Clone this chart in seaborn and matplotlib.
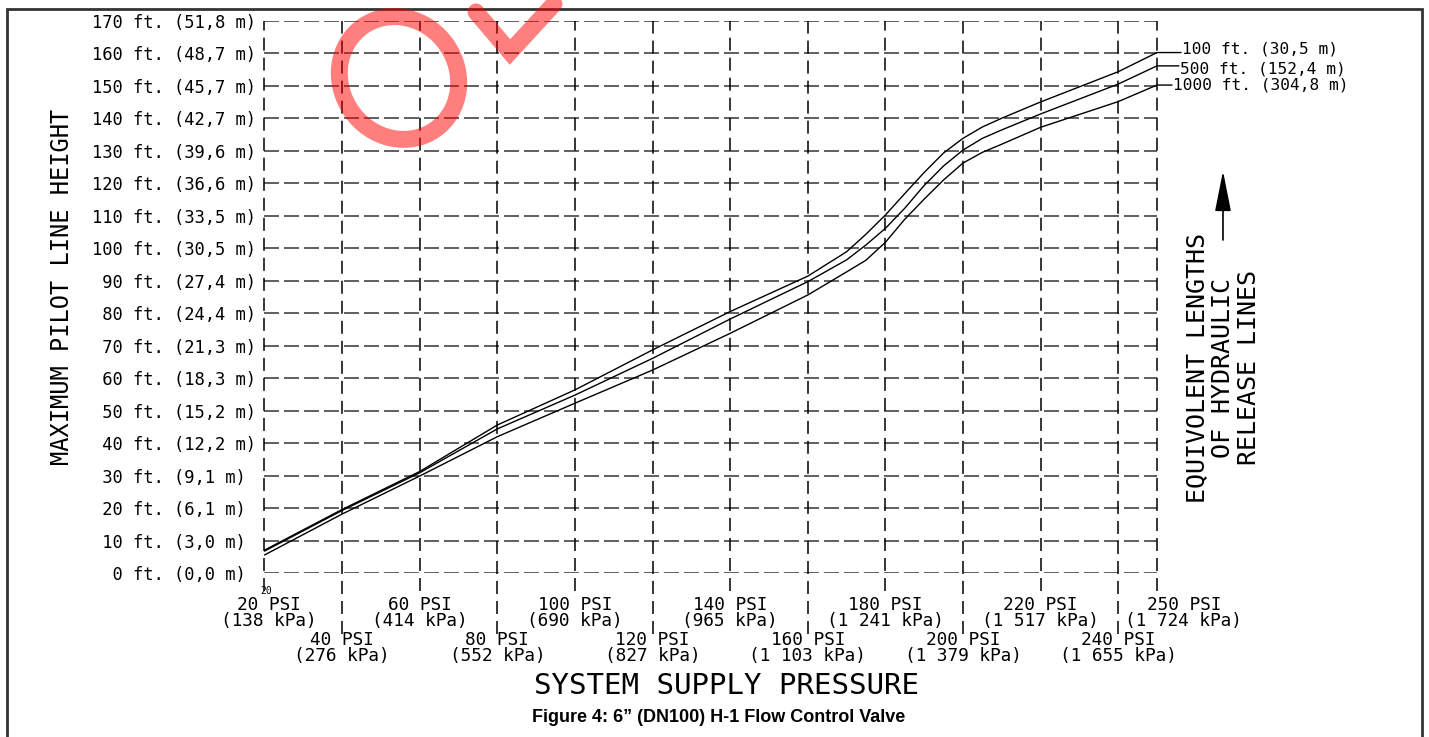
import pandas as pd
import matplotlib.pyplot as plt
import seaborn as sns
from matplotlib.patches import Ellipse, Rectangle
from matplotlib.lines import Line2D

# curve data (pressure in PSI, height in ft)
psi = [20, 40, 60, 80, 100, 120, 140, 160, 170, 175, 180, 185, 190, 195, 200, 205, 210, 220, 240, 250]
h_100 = [7.1, 19.6, 31.3, 45.6, 56.4, 68.7, 80.5, 91.4, 98.9, 104.3, 110.2, 116.8, 123.3, 129.3, 133.8, 137.3, 140.0, 145.0, 154.3, 160.2]
h_500 = [6.8, 19.3, 30.9, 44.4, 54.8, 66.1, 78.2, 89.7, 96.4, 101.0, 106.1, 112.3, 119.3, 125.3, 130.2, 133.8, 136.4, 141.3, 150.5, 156.1]
h_1000 = [5.6, 18.2, 29.9, 42.0, 52.3, 62.5, 73.8, 85.6, 92.7, 96.3, 101.8, 108.9, 115.1, 121.0, 126.2, 129.5, 132.0, 137.2, 145.1, 150.2]
curve_labels = ['100 ft. (30,5 m)', '500 ft. (152,4 m)', '1000 ft. (304,8 m)']

# axis ticks
ft_ticks = list(range(0, 171, 10))
m_labels = ['0,0', '3,0', '6,1', '9,1', '12,2', '15,2', '18,3', '21,3', '24,4', '27,4',
            '30,5', '33,5', '36,6', '39,6', '42,7', '45,7', '48,7', '51,8']
psi_ticks = [20, 40, 60, 80, 100, 120, 140, 160, 180, 200, 220, 240, 250]
kpa_labels = ['138', '276', '414', '552', '690', '827', '965', '1 103', '1 241',
              '1 379', '1 517', '1 655', '1 724']

df = pd.concat([
    pd.DataFrame({'psi': psi, 'height': h, 'length': name})
    for h, name in zip([h_100, h_500, h_1000], curve_labels)
])

sns.set_style('white')
plt.rcParams['font.family'] = ['DejaVu Sans Mono', 'DejaVu Sans']
plt.rcParams['text.color'] = 'black'
plt.rcParams['ytick.color'] = 'black'
plt.rcParams['xtick.color'] = 'black'

fig = plt.figure(figsize=(14.29, 7.37), dpi=100)
ax = fig.add_axes([0.18509, 0.22225, 0.62456, 0.74966])

# dashed grid, verticals run down between the tick label rows
ax.hlines(ft_ticks, 20, 250, colors='#444444', linestyles=(0, (9, 3)), linewidth=1.2, zorder=1)
for i, p in enumerate(psi_ticks):
    y0 = -5.5 if i % 2 == 0 else -18.7
    ax.vlines(p, y0, 170, colors='black', linestyles=(0, (8.5, 4.6)), linewidth=1.1,
              zorder=1, clip_on=False)

sns.lineplot(data=df, x='psi', y='height', hue='length', palette=['black'] * 3,
             linewidth=1.0, legend=False, estimator=None, sort=False, ax=ax, zorder=3)

ax.set_xlim(20, 250)
ax.set_ylim(0, 170)
ax.set_xlabel('')
ax.set_ylabel('')
for s in ax.spines.values():
    s.set_visible(False)

# y tick labels, left aligned so the "ft." column lines up
ax.set_yticks(ft_ticks, labels=[f'{f:>3} ft. ({m} m)' for f, m in zip(ft_ticks, m_labels)])
ax.tick_params(axis='y', length=0, pad=124, labelsize=12.3)
for lbl in ax.get_yticklabels():
    lbl.set_horizontalalignment('left')

# x tick labels in two staggered rows
ax.set_xticks(psi_ticks)
ax.tick_params(axis='x', length=0, labelbottom=False)
for i, (p, k) in enumerate(zip(psi_ticks, kpa_labels)):
    dx = 3 if p == 20 else (19.4 if p == 250 else 0)
    top = -22.9 if i % 2 == 0 else -48.1
    ax.annotate(f'{p} PSI', xy=(p, 0), xytext=(dx, top), textcoords='offset points',
                ha='center', va='center', fontsize=12.8, annotation_clip=False)
    ax.annotate(f'({k} kPa)', xy=(p, 0), xytext=(dx, top - 11.5), textcoords='offset points',
                ha='center', va='center', fontsize=12.8, annotation_clip=False)
ax.annotate('20', xy=(20, 0), xytext=(1, -13), textcoords='offset points',
            ha='center', va='center', fontsize=7, annotation_clip=False)

# curve end labels with short horizontal leaders
for h, name, off, dy in zip([h_100, h_500, h_1000], curve_labels,
                            [17.3, 15.8, 10.8], [2.6, -2.6, 0]):
    ax.annotate('', xy=(250, h[-1]), xytext=(off, 0), textcoords='offset points',
                annotation_clip=False,
                arrowprops=dict(arrowstyle='-', color='black', lw=1.0,
                                shrinkA=0, shrinkB=0))
    ax.annotate(name, xy=(250, h[-1]), xytext=(off + 0.5, dy), textcoords='offset points',
                ha='left', va='center', fontsize=11.6, annotation_clip=False)

# axis titles
fig.text(62 / 1429, 1 - 287 / 737, 'MAXIMUM PILOT LINE HEIGHT', rotation=90,
         ha='center', va='center', fontsize=17)
fig.text(727 / 1429, 1 - 686 / 737, 'SYSTEM SUPPLY PRESSURE',
         ha='center', va='center', fontsize=21)
fig.text(1223 / 1429, 1 - 368 / 737, 'EQUIVOLENT LENGTHS\nOF HYDRAULIC\nRELEASE LINES',
         rotation=90, ha='center', va='center', multialignment='center',
         fontsize=18, linespacing=1.1)
ax.annotate('', xy=(1223, 737 - 171), xytext=(1223, 737 - 240),
            xycoords='figure pixels', textcoords='figure pixels',
            arrowprops=dict(arrowstyle='-|>,head_length=1.26,head_width=0.25',
                            color='black', lw=1.2, mutation_scale=20,
                            shrinkA=0, shrinkB=0))

fig.text(719 / 1429, 1 - 718 / 737, 'Figure 4: 6\u201d (DN100) H-1 Flow Control Valve',
         ha='center', va='center', fontsize=13, fontweight='bold', color='black',
         family=['Liberation Sans', 'DejaVu Sans'])

# page frame and the red stamp mark
fig.add_artist(Rectangle((7 / 1429, -0.02), 1415 / 1429, 1.0078, transform=fig.transFigure,
                         fill=False, lw=2, ec='#333333'))
fig.add_artist(Ellipse((3.99, 7.37 - 0.78), 1.16, 1.26, angle=35,
                       transform=fig.dpi_scale_trans, fill=False,
                       ec='red', lw=12.2, alpha=0.5))
fig.add_artist(Line2D([4.76, 5.10, 5.54], [7.37 - 0.12, 7.37 - 0.52, 7.37 - 0.04],
                      transform=fig.dpi_scale_trans, color='red', lw=12.2, alpha=0.5,
                      solid_joinstyle='miter'))

plt.savefig('out.png', dpi=100)
